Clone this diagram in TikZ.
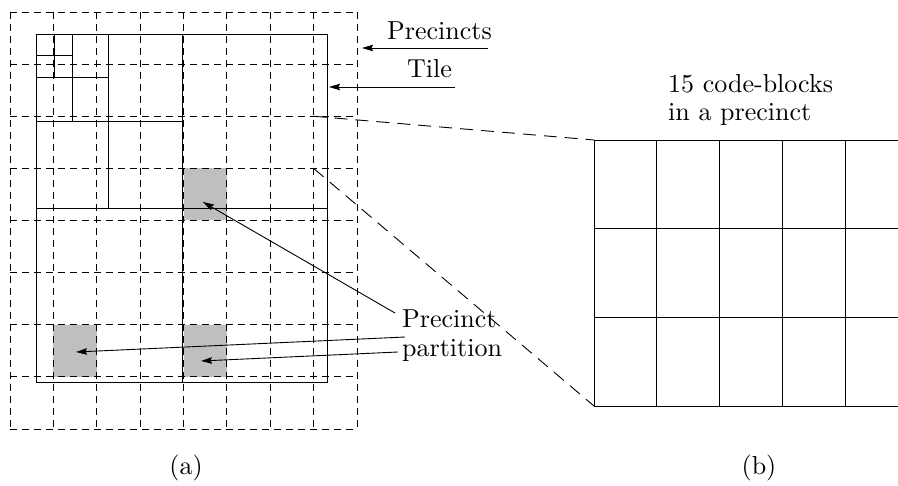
\documentclass[tikz,border=0pt]{standalone}
\usepackage{fontspec}
\setmainfont{lmroman10-regular}[Extension=.otf]
\usetikzlibrary{arrows.meta}
\begin{document}
\begin{tikzpicture}[x=1pt,y=-1pt,
  lbl/.style={inner sep=0pt,font=\fontsize{26}{29}\selectfont},
  solidln/.style={line width=0.9pt,line cap=rect},
  gridln/.style={line width=0.9pt,dash pattern=on 7pt off 5pt},
  zoomln/.style={line width=0.9pt,dash pattern=on 13pt off 8pt},
  arr/.style={line width=0.9pt,-{Stealth[length=11pt,width=6.5pt,inset=1.5pt]}},
  shade/.style={fill=black!25,draw=none}]
\useasboundingbox (0,0) rectangle (898,486);
% shaded precincts
\fill[shade] (183.5,168.4) rectangle (226.9,220.5);
\fill[shade] (53.4,324.75) rectangle (96.75,376.9);
\fill[shade] (183.5,324.75) rectangle (226.9,376.9);
% precinct grid (dashed)
\foreach \i in {0,...,8}{
  \draw[gridln] ({10+43.375*\i},12) -- ({10+43.375*\i},429);
  \draw[gridln] (10,{12+52.125*\i}) -- (357,{12+52.125*\i});
}
% tile and its decomposition
\draw[solidln] (36,34) rectangle (327,382);
\draw[solidln] (182,34) -- (182,382);
\draw[solidln] (36,208) -- (327,208);
\draw[solidln] (108.75,34) -- (108.75,208);
\draw[solidln] (36,121) -- (182,121);
\draw[solidln] (72.4,34) -- (72.4,121);
\draw[solidln] (36,77.5) -- (108.75,77.5);
\draw[solidln] (54.2,34) -- (54.2,77.5);
\draw[solidln] (36,55.75) -- (72.4,55.75);
% code-block grid (b)
\foreach \j in {0,...,3}{
  \draw[solidln,line cap=butt] (594,{140+88.67*\j}) -- (898,{140+88.67*\j});
}
\foreach \i in {0,...,4}{
  \draw[solidln,line cap=butt] ({594+62.8*\i},140) -- ({594+62.8*\i},406);
}
% coordinates
\coordinate (pTR) at (313.6,116.25);
\coordinate (pBR) at (313.6,168.4);
\coordinate (bTL) at (594,140);
\coordinate (bBL) at (594,406);
\draw[zoomln] (pTR) -- (bTL);
\draw[zoomln] (pBR) -- (bBL);
% labels
\node[lbl,anchor=base west] (precs) at (387,40) {Precincts};
\node[lbl,anchor=base west] (tile) at (407,78) {Tile};
\coordinate (precsT) at (488,48);
\coordinate (precsH) at (362,48);
\coordinate (tileT) at (455,87);
\coordinate (tileH) at (329,87);
\draw[arr] (precsT) -- (precsH);
\draw[arr] (tileT) -- (tileH);
\node[lbl,anchor=base west] (cb1) at (668,93) {15 code-blocks};
\node[lbl,anchor=base west] (cb2) at (668,121) {in a precinct};
\node[lbl,anchor=base west] (pp1) at (402,328) {Precinct};
\node[lbl,anchor=base west] (pp2) at (402,357) {partition};
\coordinate (a1) at (395,313);
\coordinate (a2) at (405,337);
\coordinate (a3) at (398,352);
\coordinate (h1) at (203,202);
\coordinate (h2) at (76,352);
\coordinate (h3) at (201,361);
\draw[arr] (a1) -- (h1);
\draw[arr] (a2) -- (h2);
\draw[arr] (a3) -- (h3);
\node[lbl] (capa) at (186,468) {(a)};
\node[lbl] (capb) at (759,468) {(b)};
\end{tikzpicture}
\end{document}
